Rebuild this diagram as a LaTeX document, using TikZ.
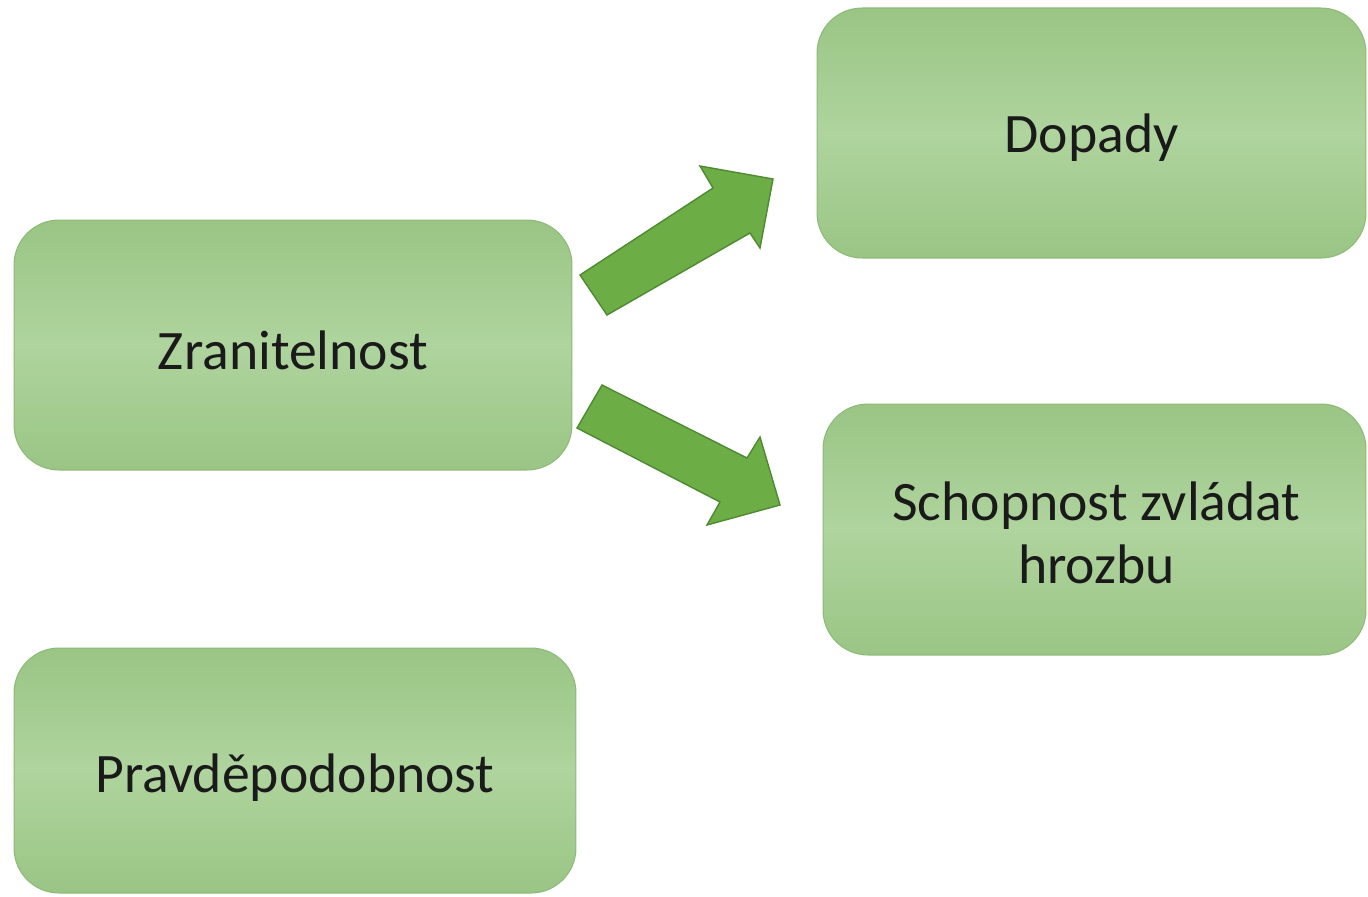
\documentclass[tikz,border=0pt]{standalone}
\usepackage{fontspec}
\setmainfont{Carlito}
\definecolor{gtop}{HTML}{9AC585}
\definecolor{gmid}{HTML}{AFD49E}
\definecolor{gedge}{HTML}{8EBA78}
\definecolor{arrfill}{HTML}{6CAD46}
\definecolor{arredge}{HTML}{4F8A33}
\definecolor{txt}{HTML}{1A1A1A}
\begin{document}
\begin{tikzpicture}[x=0.02cm,y=-0.02cm,
  box/.style={draw=gedge, line width=0.6pt, rounded corners=0.9cm, top color=gtop, bottom color=gtop, middle color=gmid, inner sep=0pt},
  boxtext/.style={align=center, text=txt, font=\fontsize{31.7}{36}\selectfont, inner sep=0pt},
  blockarrow/.style={fill=arrfill, draw=arredge, line width=0.8pt, line join=miter}]
\useasboundingbox (0,0) rectangle (1368,896);
\node[box, minimum width=11.16cm, minimum height=5cm] (zran) at (293,345) {};
\node[box, minimum width=10.98cm, minimum height=5cm] (dop) at (1091.5,133) {};
\node[box, minimum width=10.86cm, minimum height=5.02cm] (schop) at (1094.5,529.5) {};
\node[box, minimum width=11.24cm, minimum height=4.9cm] (prav) at (295,770.5) {};
\node[boxtext] (zrant) at ([yshift=-0.1cm]zran.center) {Zranitelnost};
\node[boxtext] (dopt) at ([yshift=-0.1cm]dop.center) {Dopady};
\node[boxtext] (schopt) at ([xshift=0.04cm,yshift=-0.06cm]schop.center) {Schopnost zvládat\\hrozbu};
\node[boxtext] (pravt) at ([yshift=-0.15cm]prav.center) {Pravděpodobnost};
% block arrows
\draw[blockarrow] (580,275) -- (713,188) -- (700,166) -- (773,179) -- (760,248) -- (750,233) -- (607,315) -- cycle;
\draw[blockarrow] (602,385) -- (747,458) -- (760,437) -- (780,505) -- (707,525) -- (720,502) -- (577,428) -- cycle;
\end{tikzpicture}
\end{document}
